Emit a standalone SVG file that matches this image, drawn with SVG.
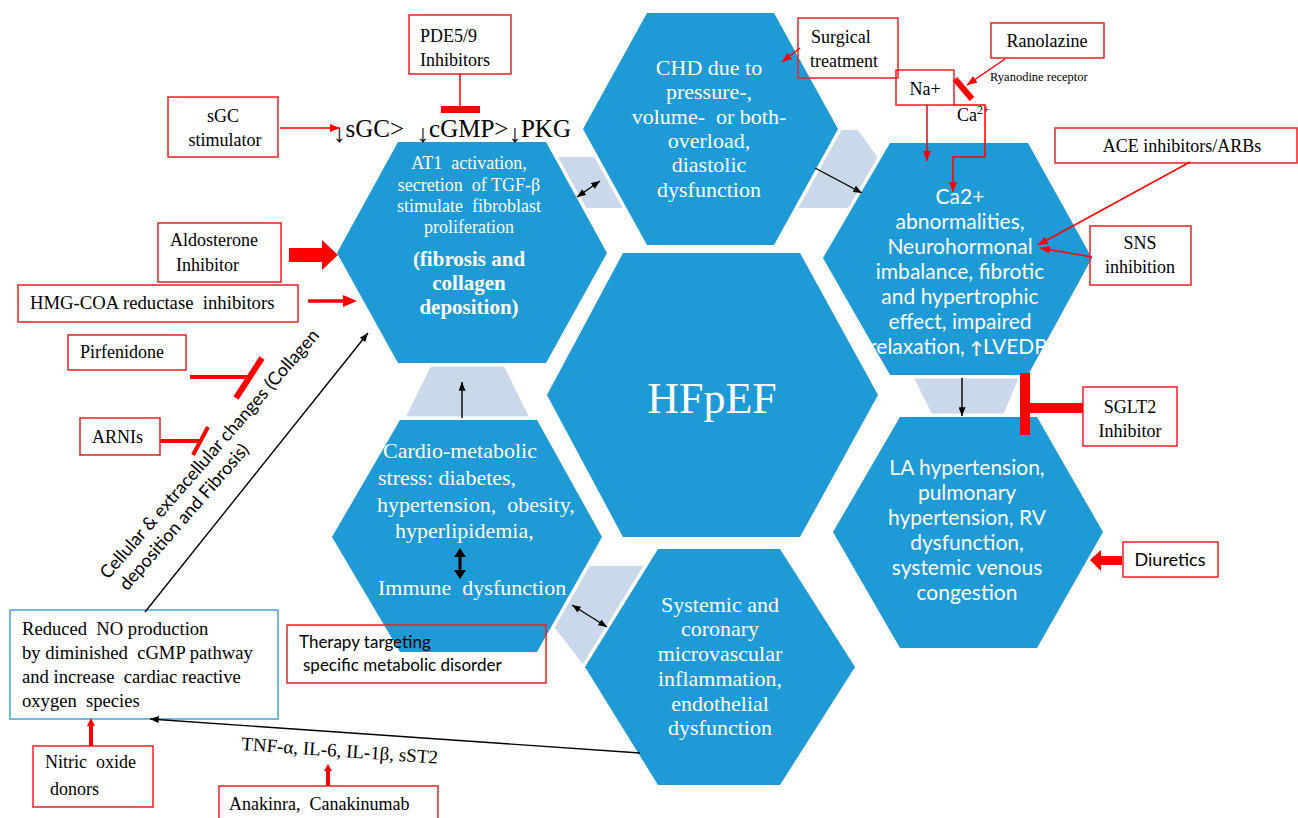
<svg xmlns="http://www.w3.org/2000/svg" width="1298" height="818" viewBox="0 0 1298 818" font-size="18">
<defs>
<style>
.hex{fill:#1e9ad6;stroke:#fff;stroke-width:7;paint-order:stroke;stroke-linejoin:miter}
.lt{fill:#c9d8ea}
.box{fill:none;stroke:#f21d23;stroke-width:1.5}
.bl{stroke:#000;stroke-width:1.4;fill:none}
.rd{stroke:#f00;fill:none}
.rf{fill:#f00}
text{white-space:pre}
.s{font-family:"Liberation Serif","Times New Roman",serif;fill:#000}
.sa{font-family:Lato,"Liberation Sans",sans-serif;fill:#000}
.w{fill:#fff}
.c{text-anchor:middle}
</style>
<marker id="ab" viewBox="0 0 10 8" refX="10" refY="4" markerWidth="9" markerHeight="7" markerUnits="userSpaceOnUse" orient="auto-start-reverse"><path d="M0,0L10,4L0,8z" fill="#000"/></marker>
<marker id="ar" viewBox="0 0 10 8" refX="10" refY="4" markerWidth="10" markerHeight="8" markerUnits="userSpaceOnUse" orient="auto"><path d="M0,0L10,4L0,8z" fill="#f00"/></marker>
</defs>
<rect width="1298" height="818" fill="#fff"/>

<g id="bands">
<polygon class="lt" points="540,157 615,157 640,208 570,208"/>
<polygon class="lt" points="800,130 858,130 885,168 860,208 790,208"/>
<polygon class="lt" points="910,370 1022,370 1001,420 935,420"/>
<polygon class="lt" points="545,615 575,566 660,566 600,667 585,667"/>
<polygon class="lt" points="434,360 501,360 533,425 402,425"/>
</g>

<g id="hex-fibrosis">
<polygon class="hex" points="337,253 398,142 546,142 607,253 546,363 398,363"/>
<g class="s w c">
<text x="469" y="169">AT1  activation,</text>
<text x="469" y="191">secretion  of TGF-β</text>
<text x="469" y="212">stimulate  fibroblast</text>
<text x="469" y="233">proliferation</text>
<text x="469" y="266" font-size="21" font-weight="bold">(fibrosis and</text>
<text x="469" y="290" font-size="21" font-weight="bold">collagen</text>
<text x="469" y="314" font-size="21" font-weight="bold">deposition)</text>
</g>
</g>

<g id="hex-chd">
<polygon class="hex" points="583,129 647,13 774,13 838,129 774,245 647,245"/>
<g class="s w c" font-size="22">
<text x="709" y="75">CHD due to</text>
<text x="709" y="99">pressure-,</text>
<text x="709" y="124">volume-  or both-</text>
<text x="709" y="148">overload,</text>
<text x="709" y="172">diastolic</text>
<text x="709" y="197">dysfunction</text>
</g>
</g>

<g id="hex-ca">
<polygon class="hex" points="823,258 890,143 1028,143 1092,258 1028,375 890,375"/>
<g class="sa w c" font-size="21">
<text x="960" y="204">Ca2+</text>
<text x="960" y="229">abnormalities,</text>
<text x="960" y="254">Neurohormonal</text>
<text x="960" y="279">imbalance, fibrotic</text>
<text x="960" y="304">and hypertrophic</text>
<text x="960" y="329">effect, impaired</text>
<text x="958" y="354">relaxation, <tspan font-size="17" font-weight="bold">↑</tspan>LVEDP</text>
</g>
</g>

<g id="hex-la">
<polygon class="hex" points="833,532 900,417 1037,417 1103,532 1037,648 900,648"/>
<g class="sa w c" font-size="21">
<text x="967" y="475">LA hypertension,</text>
<text x="967" y="500">pulmonary</text>
<text x="967" y="525">hypertension, RV</text>
<text x="967" y="550">dysfunction,</text>
<text x="967" y="575">systemic venous</text>
<text x="967" y="600">congestion</text>
</g>
</g>

<g id="hex-systemic">
<polygon class="hex" points="585,667 658,549 780,549 855,667 780,785 658,785"/>
<g class="s w c" font-size="22">
<text x="720" y="612">Systemic and</text>
<text x="720" y="636">coronary</text>
<text x="720" y="661">microvascular</text>
<text x="720" y="686">inflammation,</text>
<text x="720" y="711">endothelial</text>
<text x="720" y="735">dysfunction</text>
</g>
</g>

<g id="hex-cardio">
<polygon class="hex" points="332,537 400,420 537,420 602,537 537,652 400,652"/>
<g class="s w" font-size="22">
<text x="383" y="458">Cardio-metabolic</text>
<text x="378" y="485">stress: diabetes,</text>
<text x="377" y="512">hypertension,  obesity,</text>
<text x="395" y="538">hyperlipidemia,</text>
<text x="378" y="595">Immune  dysfunction</text>
</g>
</g>

<g id="hex-center">
<polygon class="hex" points="547,395 623,253 800,253 878,395 800,537 623,537"/>
<text class="s w c" x="712" y="413" font-size="44">HFpEF</text>
</g>

<g id="pathway-text">
<text class="s" font-size="25" x="333" y="137"><tspan font-size="25" dy="5">↓</tspan><tspan dy="-5">sGC&gt;  </tspan><tspan dy="5">↓</tspan><tspan dy="-5">cGMP&gt;</tspan><tspan dy="5">↓</tspan><tspan dy="-5">PKG</tspan></text>
</g>

<g id="box-pde">
<rect class="box" x="409" y="15" width="102" height="59"/>
<text class="s" x="420" y="42">PDE5/9</text>
<text class="s" x="420" y="66">Inhibitors</text>
</g>
<g id="box-sgc">
<rect class="box" x="168" y="97" width="110" height="60"/>
<text class="s c" x="223" y="122">sGC</text>
<text class="s c" x="225" y="146">stimulator</text>
</g>
<g id="box-surgical">
<rect class="box" x="798" y="18" width="100" height="60"/>
<text class="s" x="811" y="43">Surgical</text>
<text class="s" x="810" y="67">treatment</text>
</g>
<g id="box-ranolazine">
<rect class="box" x="991" y="23" width="113" height="35"/>
<text class="s c" x="1047" y="47">Ranolazine</text>
</g>
<g id="box-na">
<rect class="box" x="896" y="70" width="58" height="35"/>
<text class="s c" x="925" y="95">Na+</text>
</g>
<g id="label-ca">
<text class="s" x="957" y="121">Ca<tspan font-size="12" dy="-7">2+</tspan></text>
<text class="s" x="990" y="81" font-size="12.5">Ryanodine receptor</text>
</g>
<g id="box-ace">
<rect class="box" x="1055" y="128" width="242" height="35"/>
<text class="s c" x="1182" y="152">ACE inhibitors/ARBs</text>
</g>
<g id="box-sns">
<rect class="box" x="1090" y="226" width="101" height="59"/>
<text class="s c" x="1140" y="249">SNS</text>
<text class="s c" x="1140" y="273">inhibition</text>
</g>
<g id="box-sglt2">
<rect class="box" x="1083" y="387" width="94" height="59" stroke-width="3"/>
<text class="s c" x="1130" y="413">SGLT2</text>
<text class="s c" x="1130" y="437">Inhibitor</text>
</g>
<g id="box-diuretics">
<rect class="box" x="1123" y="542" width="95" height="35"/>
<text class="sa c" x="1170" y="566">Diuretics</text>
</g>
<g id="box-aldosterone">
<rect class="box" x="158" y="223" width="123" height="59"/>
<text class="s" x="170" y="246">Aldosterone</text>
<text class="s" x="176" y="271">Inhibitor</text>
</g>
<g id="box-hmg">
<rect class="box" x="18" y="285" width="280" height="37"/>
<text class="s" x="30" y="309" font-size="18.7">HMG-COA reductase  inhibitors</text>
</g>
<g id="box-pirfenidone">
<rect class="box" x="68" y="335" width="118" height="35"/>
<text class="s" x="80" y="358">Pirfenidone</text>
</g>
<g id="box-arni">
<rect class="box" x="80" y="418" width="80" height="37"/>
<text class="s" x="92" y="443">ARNIs</text>
</g>
<g id="box-no">
<rect x="10" y="610" width="268" height="109" fill="none" stroke="#41a5de" stroke-width="1.5"/>
<g class="s" font-size="18.6">
<text x="22" y="635">Reduced  NO production</text>
<text x="22" y="659">by diminished  cGMP pathway</text>
<text x="22" y="683">and increase  cardiac reactive</text>
<text x="22" y="707">oxygen  species</text>
</g>
</g>
<g id="box-nitric">
<rect class="box" x="33" y="746" width="120" height="61"/>
<text class="s" x="45" y="768">Nitric  oxide</text>
<text class="s" x="50" y="795">donors</text>
</g>
<g id="box-anakinra">
<rect class="box" x="219" y="786" width="219" height="40"/>
<text class="s" x="229" y="810">Anakinra,  Canakinumab</text>
</g>
<g id="box-therapy">
<rect class="box" x="287" y="625" width="259" height="58"/>
<text class="sa" x="299" y="648" font-size="17">Therapy targeting</text>
<text class="sa" x="303" y="671" font-size="17">specific metabolic disorder</text>
</g>
<g id="label-cytokines">
<text class="s" x="241" y="750" font-size="19" transform="rotate(4 241 750)">TNF-α, IL-6, IL-1β, sST2</text>
</g>
<g id="label-cellular">
<text class="sa" font-size="18" transform="translate(108 580) rotate(-49)"><tspan x="0" y="0">Cellular &amp; extracellular changes (Collagen</tspan><tspan x="4" y="22">deposition and Fibrosis)</tspan></text>
</g>

<g id="connectors">
<line class="bl" x1="577" y1="197" x2="600" y2="181" marker-start="url(#ab)" marker-end="url(#ab)"/>
<line class="bl" x1="815" y1="168" x2="862" y2="193" marker-end="url(#ab)"/>
<line class="bl" x1="962" y1="378" x2="962" y2="416" marker-end="url(#ab)"/>
<line class="bl" x1="462" y1="418" x2="462" y2="382" marker-end="url(#ab)"/>
<line class="bl" x1="572" y1="605" x2="607" y2="627" marker-start="url(#ab)" marker-end="url(#ab)"/>
<line x1="460" y1="555" x2="460" y2="572" stroke="#000" stroke-width="3"/>
<polygon points="454,557 460,548 466,557" fill="#000"/>
<polygon points="454,570 460,579 466,570" fill="#000"/>
<line class="bl" x1="640" y1="753" x2="150" y2="719" stroke-width="1.2" marker-end="url(#ab)"/>
<line class="bl" x1="145" y1="612" x2="368" y2="333" stroke-width="1.2" marker-end="url(#ab)"/>

<line class="rd" x1="280" y1="128" x2="340" y2="128" stroke-width="1.5" marker-end="url(#ar)"/>
<line class="rd" x1="460" y1="74" x2="460" y2="106" stroke-width="1.5"/>
<rect class="rf" x="441" y="106" width="39" height="7"/>
<line class="rd" x1="800" y1="48" x2="782" y2="62" stroke-width="1.5" marker-end="url(#ar)"/>
<line class="rd" x1="1005" y1="59" x2="967" y2="85" stroke-width="1.5" marker-end="url(#ar)"/>
<line class="rd" x1="955" y1="79" x2="972" y2="99" stroke-width="6"/>
<line class="rd" x1="927" y1="105" x2="927" y2="161" stroke-width="1.5" marker-end="url(#ar)"/>
<path class="rd" d="M954,105H985V157H953V192" stroke-width="1.5" marker-end="url(#ar)"/>
<line class="rd" x1="1190" y1="162" x2="1038" y2="245" stroke-width="1.5" marker-end="url(#ar)"/>
<line class="rd" x1="1092" y1="257" x2="1040" y2="248" stroke-width="1.5" marker-end="url(#ar)"/>
<rect class="rf" x="1020" y="373" width="10" height="62"/>
<rect class="rf" x="1025" y="403" width="58" height="10"/>
<polygon class="rf" points="1122,556 1101,556 1101,550 1090,560 1101,571 1101,565 1122,565"/>
<polygon class="rf" points="289,248 322,248 322,240 338,255 322,270 322,262 289,262"/>
<line class="rd" x1="308" y1="301" x2="344" y2="301" stroke-width="3.5"/>
<polygon class="rf" points="343,295 357,301 343,307"/>
<line class="rd" x1="190" y1="377" x2="249" y2="377" stroke-width="4"/>
<line class="rd" x1="262" y1="358" x2="236" y2="398" stroke-width="6"/>
<line class="rd" x1="160" y1="441" x2="201" y2="441" stroke-width="4"/>
<line class="rd" x1="208" y1="427" x2="193" y2="455" stroke-width="4"/>
<line class="rd" x1="91" y1="746" x2="91" y2="724" stroke-width="4"/>
<polygon class="rf" points="87,726 91,718 95,726"/>
<line class="rd" x1="328" y1="786" x2="328" y2="770" stroke-width="4"/>
<polygon class="rf" points="324,771 328,764 332,771"/>
</g>
</svg>
